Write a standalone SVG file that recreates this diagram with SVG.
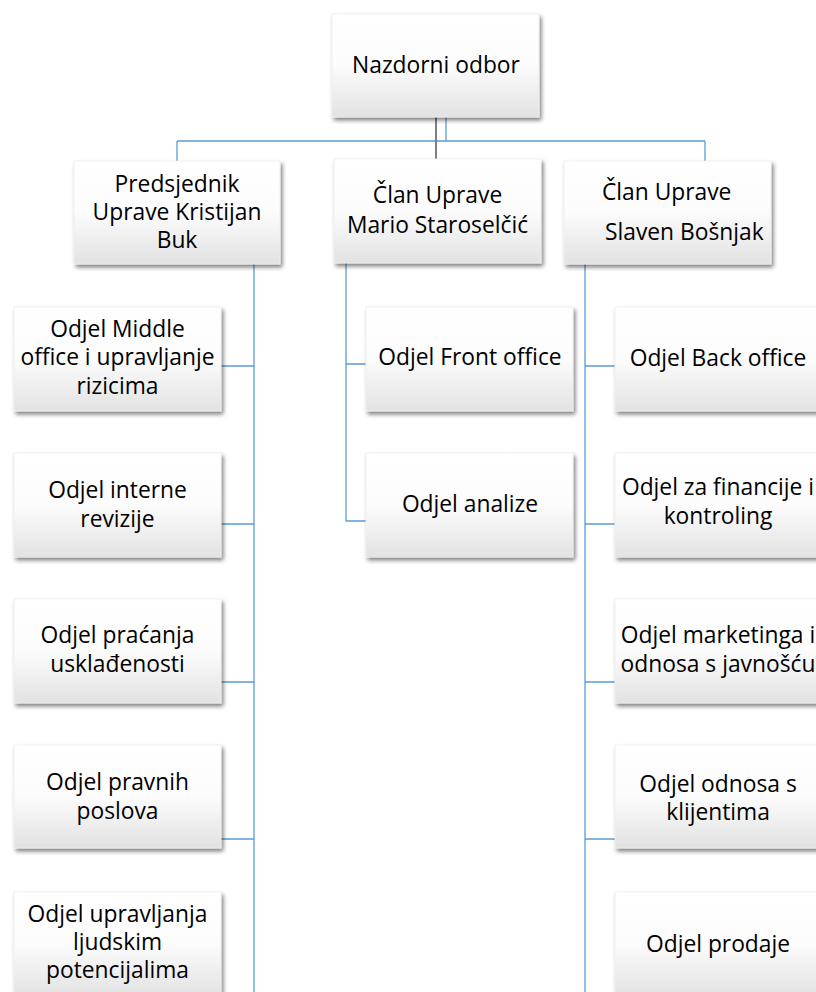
<svg xmlns="http://www.w3.org/2000/svg" width="816" height="992" viewBox="0 0 816 992">
<defs>
<linearGradient id="g" x1="0" y1="0" x2="0" y2="1">
<stop offset="0" stop-color="#ffffff"/>
<stop offset="0.5" stop-color="#fcfcfc"/>
<stop offset="1" stop-color="#e2e2e2"/>
</linearGradient>
<filter id="sh" x="-10%" y="-10%" width="125%" height="130%">
<feGaussianBlur in="SourceAlpha" stdDeviation="2"/>
<feOffset dx="2" dy="3" result="b"/>
<feComponentTransfer><feFuncA type="linear" slope="0.5"/></feComponentTransfer>
<feMerge><feMergeNode/><feMergeNode in="SourceGraphic"/></feMerge>
</filter>
</defs>
<style>
.box{fill:url(#g);stroke:#ededed;stroke-width:0.8;filter:url(#sh)}
.t{font-family:"Open Sans","Noto Sans","Liberation Sans",sans-serif;font-size:22.8px;fill:#000;text-anchor:middle}
.s{text-anchor:start}
.c{fill:none;stroke:#5b9bd5;stroke-width:1.3}
.g{fill:none;stroke:#7f7f7f;stroke-width:2}
</style>
<rect width="816" height="992" fill="#fff"/>
<g id="connectors">
<path class="c" d="M446 117V141M177 141H705M177 141V161M705 141V161"/>
<path class="c" d="M254 264V992M221 366H254M221 524H254M221 682H254M221 839H254"/>
<path class="c" d="M346 263V521H366M346 364H366"/>
<path class="c" d="M585 264V992M585 366H615M585 524H615M585 682H615M585 839H615"/>
<path class="g" d="M436 117V159"/>
</g>
<g id="n-nadzorni"><rect class="box" x="332" y="14" width="207" height="103"/><text class="t" x="436" y="73">Nazdorni odbor</text></g>
<g id="n-predsjednik"><rect class="box" x="74" y="161" width="206" height="103"/><text class="t" x="177"><tspan x="177" y="192">Predsjednik</tspan><tspan x="177" y="220">Uprave Kristijan</tspan><tspan x="177" y="248">Buk</tspan></text></g>
<g id="n-mario"><rect class="box" x="334" y="159" width="207" height="104"/><text class="t"><tspan x="437.5" y="203">Član Uprave</tspan><tspan x="437.5" y="233">Mario Staroselčić</tspan></text></g>
<g id="n-slaven"><rect class="box" x="564" y="161" width="207" height="103"/><text class="t s"><tspan x="602" y="200">Član Uprave</tspan><tspan x="605" y="240">Slaven Bošnjak</tspan></text></g>
<g id="n-middle"><rect class="box" x="14" y="307" width="207" height="104"/><text class="t"><tspan x="117.5" y="337">Odjel Middle</tspan><tspan x="117.5" y="365">office i upravljanje</tspan><tspan x="117.5" y="394">rizicima</tspan></text></g>
<g id="n-revizija"><rect class="box" x="14" y="453" width="207" height="104"/><text class="t"><tspan x="117.5" y="498">Odjel interne</tspan><tspan x="117.5" y="527">revizije</tspan></text></g>
<g id="n-uskladenost"><rect class="box" x="14" y="599" width="207" height="104"/><text class="t"><tspan x="117.5" y="643">Odjel praćanja</tspan><tspan x="117.5" y="672">usklađenosti</tspan></text></g>
<g id="n-pravni"><rect class="box" x="14" y="745" width="207" height="103"/><text class="t"><tspan x="117.5" y="790">Odjel pravnih</tspan><tspan x="117.5" y="819">poslova</tspan></text></g>
<g id="n-ljudski"><rect class="box" x="14" y="892" width="207" height="104"/><text class="t"><tspan x="117.5" y="922">Odjel upravljanja</tspan><tspan x="117.5" y="950">ljudskim</tspan><tspan x="117.5" y="978">potencijalima</tspan></text></g>
<g id="n-front"><rect class="box" x="366" y="307" width="207" height="104"/><text class="t" x="470" y="365">Odjel Front office</text></g>
<g id="n-analize"><rect class="box" x="366" y="453" width="207" height="104"/><text class="t" x="470" y="512">Odjel analize</text></g>
<g id="n-back"><rect class="box" x="615" y="307" width="207" height="104"/><text class="t" x="718" y="366">Odjel Back office</text></g>
<g id="n-financije"><rect class="box" x="615" y="453" width="207" height="104"/><text class="t"><tspan x="718" y="495">Odjel za financije i</tspan><tspan x="718" y="524">kontroling</tspan></text></g>
<g id="n-marketing"><rect class="box" x="615" y="599" width="207" height="104"/><text class="t"><tspan x="718" y="643">Odjel marketinga i</tspan><tspan x="718" y="672">odnosa s javnošću</tspan></text></g>
<g id="n-klijenti"><rect class="box" x="615" y="745" width="207" height="103"/><text class="t"><tspan x="718" y="792">Odjel odnosa s</tspan><tspan x="718" y="820">klijentima</tspan></text></g>
<g id="n-prodaja"><rect class="box" x="615" y="892" width="207" height="104"/><text class="t" x="718" y="952">Odjel prodaje</text></g>
</svg>
